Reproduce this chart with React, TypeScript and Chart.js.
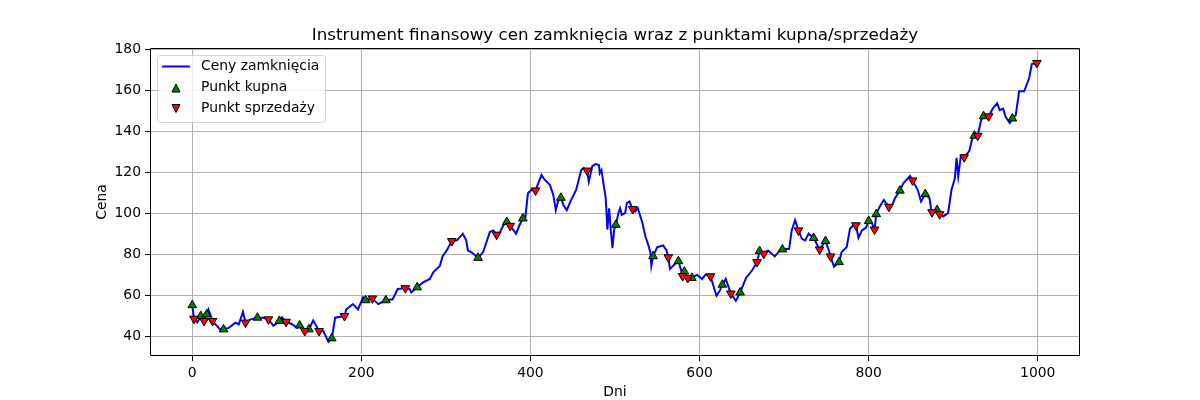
import { useEffect, useRef } from "react";
import Chart from "chart.js/auto";

const chartTitle = "Instrument finansowy cen zamknięcia wraz z punktami kupna/sprzedaży";
const xLabel = "Dni";
const yLabel = "Cena";
const lineLabel = "Ceny zamknięcia";
const buyLabel = "Punkt kupna";
const sellLabel = "Punkt sprzedaży";

const xTicks = [0, 200, 400, 600, 800, 1000];
const yTicks = [40, 60, 80, 100, 120, 140, 160, 180];

const priceDays = [
  0, 2, 6, 10, 14, 17, 19, 24, 29, 35, 37, 43, 51, 55, 60, 63, 69, 77, 84, 90, 96, 103, 106, 111, 118,
  124, 127, 133, 138, 143, 150, 155, 161, 165, 169, 180, 182, 190, 196, 202, 205, 213, 220, 229, 237,
  243, 252, 257, 259, 266, 273, 281, 285, 293, 296, 301, 307, 313, 320, 324, 326, 330, 338, 344, 352,
  356, 360, 364, 370, 372, 376, 383, 387, 391, 394, 397, 401, 406, 413, 417, 423, 427, 430, 433, 436,
  439, 443, 448, 454, 460, 463, 467, 469, 473, 477, 481, 482, 484, 486, 489, 491, 493, 495, 497, 499,
  501, 504, 506, 508, 512, 514, 517, 521, 524, 527, 530, 532, 536, 540, 542, 543, 545, 550, 557, 561,
  563, 565, 571, 575, 579, 580, 582, 586, 591, 597, 603, 607, 613, 620, 624, 627, 631, 637, 643, 648,
  655, 662, 668, 671, 676, 681, 689, 695, 698, 706, 709, 713, 717, 721, 725, 729, 735, 742, 749, 753,
  755, 759, 765, 768, 774, 778, 782, 785, 788, 792, 797, 800, 804, 807, 809, 813, 818, 824, 828, 831,
  837, 841, 849, 852, 858, 862, 867, 872, 874, 875, 881, 884, 888, 894, 898, 902, 904, 906, 909, 913,
  919, 923, 925, 929, 933, 936, 942, 947, 952, 955, 959, 962, 967, 970, 974, 978, 984, 987, 990, 993,
  999,
];
const priceValues = [
  55.1, 48.5, 46.6, 49.8, 47.4, 50.6, 53, 47.4, 45, 42.5, 43.3, 44, 46.6, 45.8, 51.8, 46.6, 48.2, 49, 49,
  48.2, 45, 47.4, 49.2, 47, 45.8, 44, 45.2, 42.5, 43.3, 47.7, 42.5, 42.5, 37.2, 38.9, 49, 49.8, 53, 55.6,
  53, 58.9, 57.5, 58.4, 55.6, 57.5, 58, 63, 63.4, 63, 61.3, 63.8, 66.2, 67.9, 71.1, 74.4, 78.9, 81.8,
  86.4, 86.7, 90, 86.7, 81.8, 81, 78.2, 81, 90.8, 91.6, 89.5, 90.8, 95.7, 95.7, 93.8, 90, 94.1, 97.4,
  98.2, 109.7, 111.3, 111.1, 118.7, 116.2, 113.8, 108.9, 101.5, 106.4, 107.5, 103.9, 101.5, 106.4, 111.3,
  121, 122, 120.8, 115.4, 122.8, 124, 123.5, 119.5, 121, 115.4, 107.3, 91.9, 102.4, 91.9, 82.9, 91.9,
  94.3, 100, 102.4, 99.2, 100, 104.9, 105.7, 102, 100.8, 102.4, 98.4, 95.9, 88.6, 83.7, 80.5, 74.4, 79,
  83.4, 84.3, 81.8, 78.5, 72.8, 75.2, 76.6, 71.1, 69.3, 71.5, 68.4, 68.4, 70, 67.9, 70, 69.2, 59.7, 62.2,
  65.1, 67.9, 60.8, 57.2, 61.3, 68.4, 72, 76.1, 81.5, 80.2, 81.8, 78.9, 81.8, 82.3, 82.6, 91.6, 96.6,
  91.6, 87.5, 86.7, 90, 87.9, 82.3, 86.4, 81.8, 78.9, 73.9, 76.1, 81, 83.4, 92.5, 94.1, 94.1, 88, 91.6,
  93, 96.2, 95, 92, 99.5, 103.1, 106.4, 103.1, 104, 107.2, 111, 114.6, 118.2, 116, 111.4, 105.7, 109.3,
  107.3, 101.6, 100.5, 101.5, 99.5, 98.4, 100, 111.4, 117, 127, 118, 127.8, 127.3, 130.3, 137, 137.8,
  137.8, 145.3, 147.3, 147.3, 151.2, 153.7, 150.3, 151, 147, 144, 146.2, 147.8, 159.5, 159.5, 162.8,
  166.2, 172.8, 173.3,
];

const buyDays = [
  0, 10, 17, 37, 77, 103, 127, 138, 165, 205, 229, 266, 338, 372, 391, 436, 501, 545, 575, 582, 591, 627,
  648, 671, 698, 735, 749, 765, 800, 809, 837, 867, 881, 925, 936, 970,
];
const buyValues = [
  55.1, 49.8, 50.6, 43.3, 49, 47.4, 45.2, 43.3, 38.9, 57.5, 57.5, 63.8, 78.2, 95.7, 97.4, 107.5, 94.3,
  79, 76.6, 71.5, 68.4, 65.1, 61.3, 81.5, 82.3, 87.9, 86.4, 76.1, 96.2, 99.5, 111, 109.3, 101.5, 137.8,
  147.3, 146.2,
];

const sellDays = [
  2, 14, 24, 63, 90, 111, 133, 150, 180, 213, 252, 307, 360, 376, 406, 467, 521, 563, 580, 586, 613, 637,
  668, 676, 717, 742, 755, 785, 807, 824, 852, 875, 884, 913, 929, 942, 999,
];
const sellValues = [
  48.5, 47.4, 47.4, 46.6, 48.2, 47, 42.5, 42.5, 49.8, 58.4, 63.4, 86.4, 89.5, 93.8, 111.1, 120.8, 102,
  78.5, 69.3, 68.4, 69.2, 60.8, 76.1, 80.2, 91.6, 82.3, 78.9, 94.1, 92, 103.1, 116, 100.5, 99.5, 127.3,
  137.8, 147.3, 173.3,
];

const FONT = "'DejaVu Sans', sans-serif";

const toPoints = (xs: number[], ys: number[]) => xs.map((x, i) => ({ x, y: ys[i] }));

const triangle = (ctx: CanvasRenderingContext2D, x: number, y: number, s: number, up: boolean) => {
  const d = up ? 1 : -1;
  ctx.beginPath();
  ctx.moveTo(x, y - d * s);
  ctx.lineTo(x - s, y + d * s);
  ctx.lineTo(x + s, y + d * s);
  ctx.closePath();
  ctx.fill();
  ctx.stroke();
};

// frame, titles and the legend box, drawn the way matplotlib lays them out
const decorPlugin = {
  id: "decor",
  afterDraw(chart: Chart) {
    const { ctx, chartArea } = chart;
    const l = Math.round(chartArea.left) + 0.5;
    const r = Math.round(chartArea.right) - 0.5;
    const t = Math.round(chartArea.top) + 0.5;
    const b = Math.round(chartArea.bottom) - 0.5;
    ctx.save();
    ctx.strokeStyle = "#000000";
    ctx.lineWidth = 1;
    ctx.beginPath();
    ctx.moveTo(l, t);
    ctx.lineTo(r, t);
    ctx.lineTo(r, b);
    ctx.lineTo(l, b);
    ctx.closePath();
    ctx.stroke();

    ctx.fillStyle = "#000";
    ctx.font = `16.7px ${FONT}`;
    ctx.textAlign = "center";
    ctx.textBaseline = "alphabetic";
    ctx.fillText(chartTitle, (l + r) / 2, 40);

    ctx.font = `13.9px ${FONT}`;
    ctx.fillText(xLabel, (l + r) / 2, 396);
    ctx.save();
    ctx.translate(106, (t + b) / 2);
    ctx.rotate(-Math.PI / 2);
    ctx.fillText(yLabel, 0, 0);
    ctx.restore();

    // legend
    ctx.beginPath();
    ctx.roundRect(157.5, 55.5, 168, 67, 3);
    ctx.fillStyle = "rgba(255,255,255,0.8)";
    ctx.fill();
    ctx.strokeStyle = "rgba(204,204,204,0.8)";
    ctx.stroke();

    ctx.strokeStyle = "#0000ff";
    ctx.lineWidth = 2;
    ctx.beginPath();
    ctx.moveTo(162, 66.5);
    ctx.lineTo(190, 66.5);
    ctx.stroke();

    ctx.strokeStyle = "#000";
    ctx.lineWidth = 1;
    ctx.fillStyle = "#008000";
    triangle(ctx, 176, 88, 4, true);
    ctx.fillStyle = "#ff0000";
    triangle(ctx, 176, 108.5, 4, false);

    ctx.fillStyle = "#000";
    ctx.textAlign = "left";
    ctx.textBaseline = "middle";
    ctx.fillText(lineLabel, 201, 66);
    ctx.fillText(buyLabel, 201, 87);
    ctx.fillText(sellLabel, 201, 108);
    ctx.restore();
  },
};

const App = () => {
  const canvasRef = useRef<HTMLCanvasElement | null>(null);

  useEffect(() => {
    document.body.style.margin = "0";
    if (!canvasRef.current) return;

    const chart = new Chart(canvasRef.current, {
      type: "scatter",
      data: {
        datasets: [
          {
            label: sellLabel,
            data: toPoints(sellDays, sellValues),
            pointStyle: "triangle",
            rotation: 180,
            pointRadius: 5,
            pointBackgroundColor: "#ff0000",
            pointBorderColor: "#000",
            pointBorderWidth: 1,
            order: 0,
          },
          {
            label: buyLabel,
            data: toPoints(buyDays, buyValues),
            pointStyle: "triangle",
            pointRadius: 5,
            pointBackgroundColor: "#008000",
            pointBorderColor: "#000",
            pointBorderWidth: 1,
            order: 1,
          },
          {
            label: lineLabel,
            data: toPoints(priceDays, priceValues),
            showLine: true,
            borderColor: "#0000ff",
            borderWidth: 2,
            pointRadius: 0,
            tension: 0,
            order: 2,
          },
        ],
      },
      options: {
        responsive: true,
        maintainAspectRatio: false,
        animation: false,
        layout: { padding: { left: 0, right: 120, top: 48, bottom: 0 } },
        plugins: {
          legend: { display: false },
          title: { display: false },
          tooltip: { enabled: false },
        },
        scales: {
          x: {
            type: "linear",
            min: -50,
            max: 1050,
            afterBuildTicks: (axis) => {
              axis.ticks = xTicks.map((value) => ({ value }));
            },
            afterFit: (axis) => {
              axis.height = 44;
            },
            ticks: {
              callback: (value) => String(value),
              color: "#000",
              padding: 4,
              maxRotation: 0,
              font: { family: FONT, size: 13.9 },
            },
            grid: { color: "#b0b0b0", lineWidth: 1, tickLength: 5, tickColor: "#000" },
            border: { display: false },
          },
          y: {
            type: "linear",
            min: 30.3,
            max: 180.6,
            afterBuildTicks: (axis) => {
              axis.ticks = yTicks.map((value) => ({ value }));
            },
            afterFit: (axis) => {
              axis.width = 150;
            },
            ticks: {
              callback: (value) => String(value),
              color: "#000",
              padding: 4,
              font: { family: FONT, size: 13.9 },
            },
            grid: { color: "#b0b0b0", lineWidth: 1, tickLength: 5, tickColor: "#000" },
            border: { display: false },
          },
        },
      },
      plugins: [decorPlugin],
    });

    return () => {
      chart.destroy();
    };
  }, []);

  return (
    <div style={{ position: "relative", width: 1200, height: 400, background: "#fff" }}>
      <canvas ref={canvasRef} />
    </div>
  );
};

export default App;
